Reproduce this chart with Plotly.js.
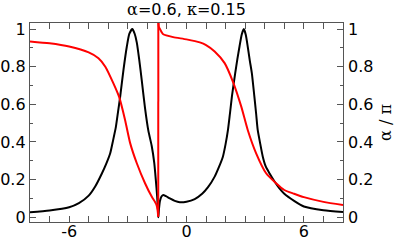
<!DOCTYPE html>
<html>
<head>
<meta charset="utf-8">
<script src="https://cdn.plot.ly/plotly-3.0.1.min.js"></script>
<style>html,body{margin:0;padding:0;background:#fff;}#chart{width:395px;height:240px;}</style>
</head>
<body>
<div id="chart"></div>
<script>
const greek = s => '<span style="font-family:\'DejaVu Serif\', serif">' + s + '</span>';
const titleText = greek("α") + "=0.6, " + greek("κ") + "=0.15";
const rightAxisTitle = greek("α / π");
const xTicks = [-6, 0, 6];
const yTicks = [0, 0.2, 0.4, 0.6, 0.8, 1];

const xBlack = [-8, -7, -6, -5.5, -5, -4.66, -4.32, -4.1, -3.9, -3.75, -3.61, -3.5, -3.39, -3.22, -3.05, -2.92, -2.77, -2.65, -2.54, -2.42, -2.29, -2.12, -1.95, -1.78, -1.65, -1.57, -1.5, -1.46, -1.44, -1.41, -1.36, -1.28, -1.19, -1.05, -0.85, -0.6, -0.34, 0, 0.42, 0.8, 1.1, 1.44, 1.65, 1.86, 2.0, 2.12, 2.22, 2.32, 2.49, 2.6, 2.71, 2.82, 2.93, 3.03, 3.13, 3.24, 3.34, 3.47, 3.56, 3.64, 3.77, 3.9, 4.05, 4.24, 4.5, 4.74, 5.0, 5.5, 6, 7, 8];
const yBlack = [0.027, 0.036, 0.053, 0.075, 0.115, 0.165, 0.234, 0.285, 0.34, 0.41, 0.48, 0.56, 0.641, 0.784, 0.907, 0.975, 1.0, 0.975, 0.928, 0.84, 0.73, 0.58, 0.46, 0.38, 0.29, 0.2, 0.11, 0.04, 0.0, 0.04, 0.085, 0.11, 0.119, 0.112, 0.1, 0.087, 0.08, 0.083, 0.097, 0.125, 0.16, 0.216, 0.265, 0.322, 0.39, 0.464, 0.55, 0.641, 0.766, 0.84, 0.907, 0.97, 1.0, 0.97, 0.907, 0.83, 0.766, 0.641, 0.55, 0.464, 0.39, 0.322, 0.27, 0.234, 0.19, 0.155, 0.125, 0.087, 0.057, 0.037, 0.028];

const xRed = [-8, -7, -6, -5, -4.5, -4.15, -3.73, -3.44, -3.14, -2.88, -2.54, -2.12, -1.78, -1.6, -1.53, -1.48, -1.445, -1.44, -1.43, -1.41, -1.36, -1.28, -1.19, -0.68, 0, 0.68, 1.0, 1.44, 1.95, 2.37, 2.8, 3.13, 3.56, 4.07, 4.58, 5.0, 5.5, 6, 7, 8];
const yRed = [0.934, 0.924, 0.907, 0.876, 0.845, 0.8, 0.71, 0.638, 0.517, 0.394, 0.287, 0.181, 0.11, 0.08, 0.065, 0.04, 0.003, 1.06, 1.03, 1.01, 1.0, 0.985, 0.972, 0.957, 0.945, 0.929, 0.915, 0.881, 0.819, 0.721, 0.588, 0.464, 0.34, 0.234, 0.181, 0.145, 0.125, 0.107, 0.082, 0.065];

const font = {family: "DejaVu Sans, sans-serif", size: 16, color: "#000"};
const frame = "#555";

// split the red series at its jump so the smooth parts do not overshoot
let jump = 1;
for (let i = 1; i < yRed.length; i++) { if (Math.abs(yRed[i] - yRed[i - 1]) > 0.5) { jump = i; break; } }
const redLine = {color: "#ff0000", width: 2};
const traces = [
  {x: xBlack, y: yBlack, type: "scatter", mode: "lines", line: {color: "#000", width: 2, shape: "spline", smoothing: 0.6}, hoverinfo: "skip", showlegend: false},
  {x: xRed.slice(0, jump), y: yRed.slice(0, jump), type: "scatter", mode: "lines", line: Object.assign({shape: "spline", smoothing: 0.6}, redLine), hoverinfo: "skip", showlegend: false},
  {x: xRed.slice(jump - 1, jump + 1), y: yRed.slice(jump - 1, jump + 1), type: "scatter", mode: "lines", line: redLine, hoverinfo: "skip", showlegend: false},
  {x: xRed.slice(jump), y: yRed.slice(jump), type: "scatter", mode: "lines", line: Object.assign({shape: "spline", smoothing: 0.6}, redLine), hoverinfo: "skip", showlegend: false},
  {x: [null], y: [null], yaxis: "y2", type: "scatter", mode: "lines", hoverinfo: "skip", showlegend: false}
];

const yRange = [-0.025, 1.032];
const layout = {
  width: 395, height: 240,
  margin: {l: 30, r: 52, t: 23, b: 18, pad: 0},
  paper_bgcolor: "#fff", plot_bgcolor: "#fff",
  font: font,
  showlegend: false,
  title: {text: titleText, x: 0.5, xref: "paper", xanchor: "center", y: 0.96, yref: "container", yanchor: "middle", font: font},
  xaxis: {
    range: [-8, 8], tickmode: "array", tickvals: xTicks, ticktext: xTicks.map(String),
    ticks: "inside", ticklen: 6, tickwidth: 1, tickcolor: frame,
    minor: {dtick: 1, ticks: "inside", ticklen: 3, tickcolor: frame, tickwidth: 1},
    showline: true, linecolor: frame, linewidth: 1.2, mirror: "allticks",
    showgrid: false, zeroline: false, tickfont: font, ticklabelstandoff: -5
  },
  yaxis: {
    range: yRange, tickmode: "array", tickvals: yTicks, ticktext: yTicks.map(String),
    ticks: "inside", ticklen: 6, tickwidth: 1, tickcolor: frame,
    minor: {dtick: 0.1, tick0: 0, ticks: "inside", ticklen: 3, tickcolor: frame, tickwidth: 1},
    showline: true, linecolor: frame, linewidth: 1.2, mirror: "allticks",
    showgrid: false, zeroline: false, tickfont: font, ticklabelstandoff: 0
  },
  yaxis2: {
    range: yRange, overlaying: "y", side: "right", tickmode: "array", tickvals: yTicks, ticktext: yTicks.map(String),
    ticks: "", showline: false, showgrid: false, zeroline: false, tickfont: font, ticklabelstandoff: 4,
    title: {text: rightAxisTitle, font: font, standoff: 7}
  }
};

Plotly.newPlot("chart", traces, layout, {staticPlot: true, displayModeBar: false});
</script>
</body>
</html>
